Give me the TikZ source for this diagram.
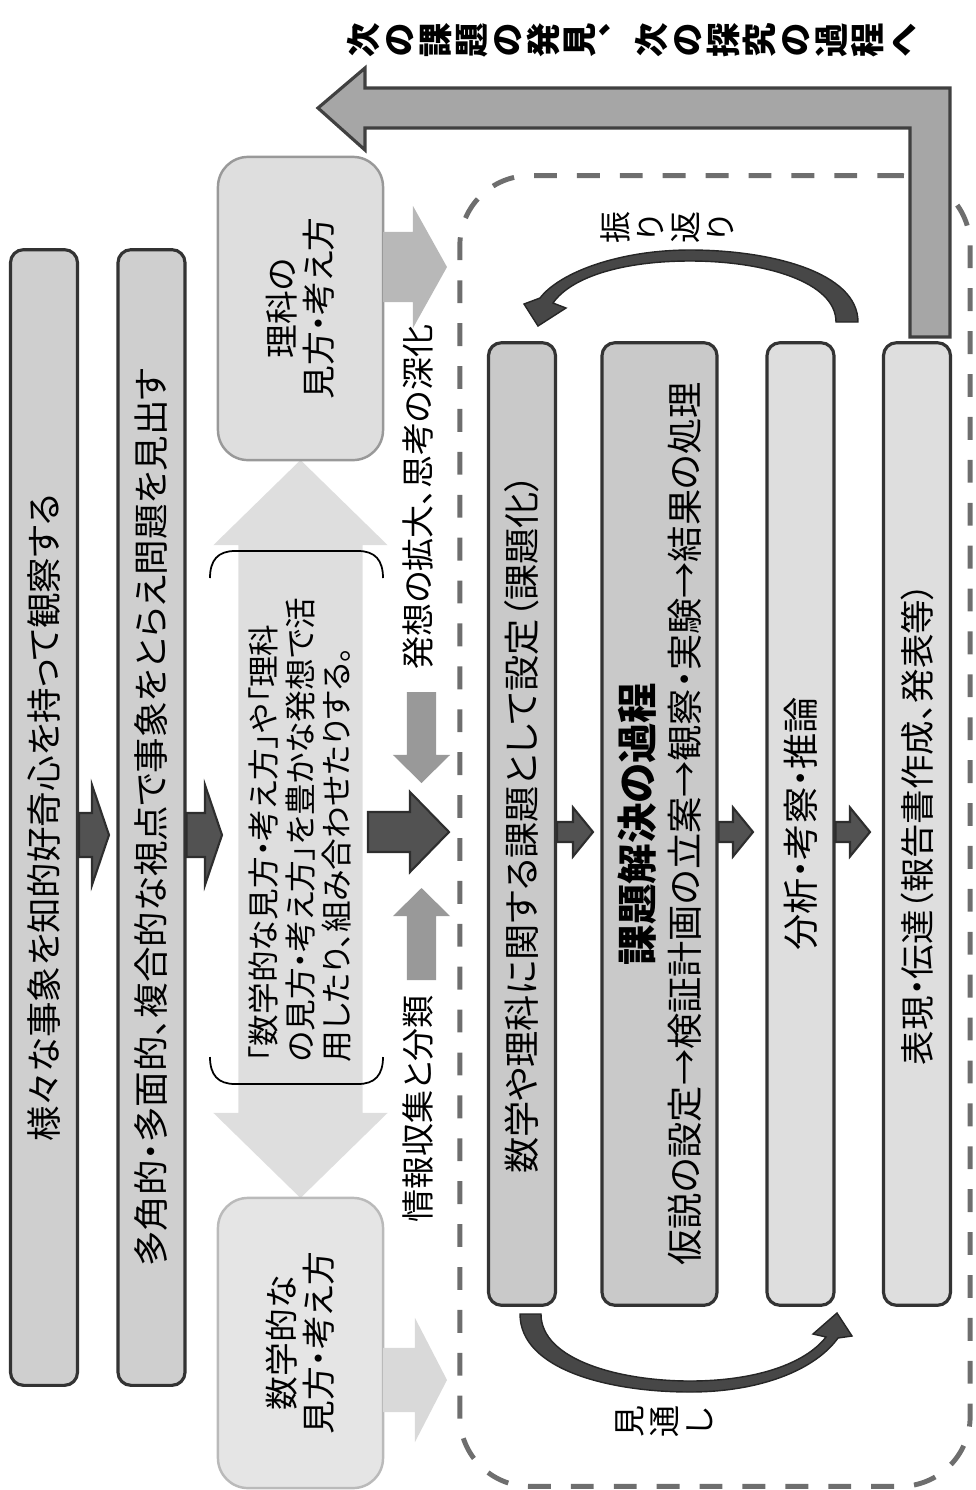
\documentclass[tikz,border=0pt]{standalone}
\usepackage{fontspec}
\setmainfont{Noto Sans CJK JP}[RawFeature=+palt]
\newfontfamily\vertfont{Noto Sans CJK JP}[RawFeature=+vert]
\usetikzlibrary{calc}

% block arrow: style, tail, tip, shaft half width, head half width, head length
\newcommand{\blockarrow}[6]{%
  \coordinate (hb) at ($(#3)!#6!(#2)$);
  \filldraw[#1] ($(#2)!#4!90:(#3)$) -- ($(hb)!#4!90:(#3)$) -- ($(hb)!#5!90:(#3)$) -- (#3)
    -- ($(hb)!#5!-90:(#3)$) -- ($(hb)!#4!-90:(#3)$) -- ($(#2)!#4!-90:(#3)$) -- cycle;
}

\tikzset{
  vtext/.style={rotate=90, align=center, inner sep=0pt},
  stage/.style={vtext, draw=black!80, line width=0.9pt, fill=black!19, rounded corners=0.13cm,
    minimum height=0.67cm, font=\fontsize{10.1pt}{11pt}\selectfont},
  column/.style={stage, minimum width=9.62cm},
  view/.style={vtext, draw=black!40, fill=black!13, line width=0.7pt, rounded corners=0.3cm,
    minimum height=1.65cm, font=\fontsize{9.6pt}{10.6pt}\selectfont},
  dashbox/.style={draw=black!57, line width=1.4pt, dash pattern=on 6.5pt off 5.7pt,
    rounded corners=0.7cm, minimum width=5.1cm, minimum height=13.1cm, inner sep=0pt},
  darkarrow/.style={fill=black!68, draw=black!82, line width=0.6pt},
  grayarrow/.style={fill=black!40, draw=none},
  labelfont/.style={font=\fontsize{9.4pt}{10pt}\selectfont},
  charbox/.style={rotate=90, inner sep=0pt, text height=0.88em, text depth=0.12em, text width=1em, align=center},
  headchar/.style={charbox, font=\vertfont\bfseries\fontsize{9.8pt}{10pt}\selectfont},
  loopchar/.style={charbox, font=\vertfont\fontsize{9.1pt}{10pt}\selectfont},
  curvearrow/.style={fill=black!72, draw=black!85, line width=0.4pt}
}

\begin{document}
\begin{tikzpicture}[x=0.01cm, y=-0.01cm]
  \useasboundingbox (0,0) rectangle (976,1490);

  % Dashed frame of the inquiry cycle
  \node[dashbox] (inquiry) at (715,831) {};

  % Return arrow to the next cycle
  \filldraw[fill=black!35, draw=black!75, line width=0.9pt]
    (950,337) -- (950,88) -- (365,88) -- (365,68) -- (318,108) -- (365,150)
    -- (365,128) -- (910,128) -- (910,337) -- cycle;

  % Header, one glyph at a time
  \foreach \ch [count=\i from 0] in {次,の,課,題,の,発,見,、,次,の,探,究,の,過,程,へ}
    \node[headchar] (h\i) at (363+\i*36,40) {\ch};

  % Double arrow between the two views
  \coordinate (viewmid) at (300.5,830);
  \coordinate (rikatip) at (300.5,460);
  \coordinate (sugakutip) at (300.5,1198);
  \blockarrow{fill=black!13, draw=none}{viewmid}{rikatip}{0.62cm}{0.87cm}{0.85cm}
  \blockarrow{fill=black!13, draw=none}{viewmid}{sugakutip}{0.62cm}{0.87cm}{0.85cm}
  \node[view] (rika) at (300.5,308.5) [minimum width=3.03cm] {理科の\\見方・考え方};
  \node[view, draw=black!27, fill=black!10] (sugaku) at (300.5,1343) [minimum width=2.9cm] {数学的な\\見方・考え方};

  % Combining the views
  \node[vtext, align=left, font=\fontsize{9pt}{10.5pt}\selectfont] (combine) at (300,830)
    {「数学的な見方・考え方」や「理科\\の見方・考え方」を豊かな発想で活\\用したり、組み合わせたりする。};
  \draw[black, line width=0.5pt] (210,578) .. controls (210,560) and (218,551) .. (235,551) -- (358,551)
    .. controls (375,551) and (383,560) .. (383,578);
  \draw[black, line width=0.5pt] (210,1057) .. controls (210,1075) and (218,1084) .. (235,1084) -- (358,1084)
    .. controls (375,1084) and (383,1075) .. (383,1057);

  % Left stages
  \node[stage, minimum width=11.35cm] (observe) at (44,817.5) {様々な事象を知的好奇心を持って観察する};
  \node[stage, minimum width=11.35cm] (find) at (151.5,817.5) {多角的・多面的、複合的な視点で事象をとらえ問題を見出す};
  \coordinate (row) at (0,835);
  \coordinate (t1) at (109,835);
  \coordinate (t2) at (222,835);
  \blockarrow{darkarrow}{observe.south |- row}{t1}{0.22cm}{0.5cm}{0.17cm}
  \blockarrow{darkarrow}{find.south |- row}{t2}{0.22cm}{0.5cm}{0.17cm}

  % Views into the inquiry
  \coordinate (rikaout) at (383,267);
  \coordinate (rikain) at (447,267);
  \coordinate (sugakuout) at (383,1380);
  \coordinate (sugakuin) at (447,1380);
  \blockarrow{fill=black!28, draw=none}{rikaout}{rikain}{0.35cm}{0.61cm}{0.34cm}
  \blockarrow{fill=black!15, draw=none}{sugakuout}{sugakuin}{0.32cm}{0.62cm}{0.32cm}

  \node[vtext, labelfont] (widen) at (418,497) {発想の拡大、思考の深化};
  \node[vtext, labelfont] (collect) at (418,1109) {情報収集と分類};
  \coordinate (downtop) at (421.5,692);
  \coordinate (downtip) at (421.5,783);
  \coordinate (upbottom) at (421.5,980);
  \coordinate (uptip) at (421.5,888);
  \blockarrow{grayarrow}{downtop}{downtip}{0.145cm}{0.285cm}{0.28cm}
  \blockarrow{grayarrow}{upbottom}{uptip}{0.145cm}{0.285cm}{0.28cm}
  \coordinate (combineout) at (368,832);
  \coordinate (inquiryin) at (449,832);
  \blockarrow{darkarrow}{combineout}{inquiryin}{0.2cm}{0.4cm}{0.39cm}

  % Columns of the inquiry cycle
  \node[column, fill=black!21, font=\fontsize{10.3pt}{11pt}\selectfont] (c1) at (522,824) {数学や理科に関する課題として設定（課題化）};
  \node[column, fill=black!21, minimum height=1.15cm, font=\fontsize{10.3pt}{13pt}\selectfont] (c2) at (659.5,824)
    {{\fontsize{11.5pt}{13pt}\selectfont\bfseries 課題解決の過程}\\仮説の設定→検証計画の立案→観察・実験→結果の処理};
  \node[column, fill=black!13, font=\fontsize{10.3pt}{11pt}\selectfont] (c3) at (800.5,824) {分析・考察・推論};
  \node[column, fill=black!13, font=\fontsize{9.8pt}{11pt}\selectfont] (c4) at (917,824) {表現・伝達（報告書作成、発表等）};
  \coordinate (crow) at (0,832);
  \coordinate (t3) at (593,832);
  \coordinate (t4) at (753,832);
  \coordinate (t5) at (870,832);
  \blockarrow{darkarrow}{c1.south |- crow}{t3}{0.1cm}{0.245cm}{0.2cm}
  \blockarrow{darkarrow}{c2.south |- crow}{t4}{0.1cm}{0.245cm}{0.2cm}
  \blockarrow{darkarrow}{c3.south |- crow}{t5}{0.1cm}{0.245cm}{0.2cm}

  % Looking back
  \filldraw[curvearrow] (836,322) -- (858,322) .. controls (858,272) and (770,250) .. (690,250)
    .. controls (620,250) and (560,272) .. (540,298) -- (524,304) -- (538,326) -- (566,308) -- (553,303)
    .. controls (572,276) and (625,261) .. (690,261) .. controls (765,261) and (836,282) .. (836,322) -- cycle;
  \foreach \ch [count=\i from 0] in {振,り,返,り}
    \node[loopchar] (f\i) at (614+\i*35,227) {\ch};

  % Looking ahead
  \filldraw[curvearrow] (520,1314) .. controls (520,1370) and (610,1392) .. (690,1392)
    .. controls (760,1392) and (815,1370) .. (838,1338) -- (852,1336) -- (837,1313) -- (813,1334) -- (826,1337)
    .. controls (805,1364) and (755,1381) .. (690,1381) .. controls (620,1381) and (541,1360) .. (541,1314) -- cycle;
  \foreach \ch [count=\i from 0] in {見,通,し}
    \node[loopchar] (m\i) at (628+\i*35,1421) {\ch};
\end{tikzpicture}
\end{document}
